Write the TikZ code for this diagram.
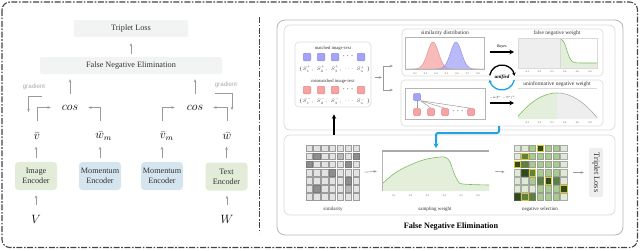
\RequirePackage{fix-cm}
\documentclass[tikz,border=0pt]{standalone}
\usepackage{fontspec}
\setmainfont{Liberation Serif}
\newfontfamily\arialf{Liberation Sans}
\usetikzlibrary{arrows.meta,calc}
\newcommand{\fsz}[1]{\fontsize{#1}{#1}\selectfont}
\newcommand{\fszl}[2]{\fontsize{#1}{#2}\selectfont}
\definecolor{txt}{HTML}{333333}
\definecolor{boxg}{HTML}{F2F3F3}
\definecolor{encg}{HTML}{E2ECD8}
\definecolor{encb}{HTML}{D4E5EF}
\definecolor{arrg}{HTML}{9A9A9A}
\definecolor{gradc}{HTML}{AAAAAA}
\definecolor{framec}{HTML}{444444}
\definecolor{panel}{HTML}{B5B5B5}
\definecolor{panel2}{HTML}{D9D9D9}
\definecolor{sqb}{HTML}{A3A3F7}
\definecolor{sqbd}{HTML}{8C8CE6}
\definecolor{sqr}{HTML}{F7A3A3}
\definecolor{sqrd}{HTML}{E38C8C}
\definecolor{cyanc}{HTML}{1FA2E6}
\definecolor{gln}{HTML}{7DBB62}
\definecolor{gfl}{HTML}{E3EFDA}
\definecolor{grf}{HTML}{EEEEEE}
\definecolor{simc0}{HTML}{E3E3E3}
\definecolor{simd0}{HTML}{9C9C9C}
\definecolor{simc1}{HTML}{8E8E8E}
\definecolor{simd1}{HTML}{7A7A7A}
\definecolor{simc2}{HTML}{B9B9B9}
\definecolor{simd2}{HTML}{8E8E8E}
\definecolor{negc0}{HTML}{DFEAD5}
\definecolor{negd0}{HTML}{ABABAB}
\definecolor{negc1}{HTML}{A9CB8F}
\definecolor{negd1}{HTML}{9AA092}
\definecolor{negc2}{HTML}{5E8040}
\definecolor{negd2}{HTML}{6E7E60}
\definecolor{negc3}{HTML}{2F4A1C}
\definecolor{negd3}{HTML}{4A5A40}
\definecolor{negc4}{HTML}{2F4A1C}
\definecolor{negd4}{HTML}{D8C530}
\definecolor{negc5}{HTML}{5E8040}
\definecolor{negd5}{HTML}{D8C530}
\begin{document}
\begin{tikzpicture}[x=1pt,y=-1pt,
  lbl/.style={font=\fszl{8.2}{10}, text=txt},
  lbox/.style={lbl, fill=boxg, rounded corners=2pt, inner sep=0},
  enc/.style={lbl, rounded corners=3.5pt, minimum width=42, minimum height=28, align=center, inner sep=0},
  mth/.style={inner sep=0, text=black, font=\fsz{12}},
  garrow/.style={draw=arrg, line width=0.6pt, -{Stealth[length=3.2pt,width=2.6pt]}},
  gline/.style={draw=arrg, line width=0.6pt},
  dashdot/.style={draw=framec, line width=1.1pt, dash pattern=on 6pt off 1.6pt on 1.6pt off 1.6pt},
  gradlbl/.style={font=\arialf\fsz{6.2}, text=gradc, inner sep=0},
  tinyl/.style={font=\fsz{4.6}, text=txt, inner sep=0},
  setl/.style={font=\fsz{4.8}, text=txt, inner sep=0},
  ttl/.style={font=\fsz{5.5}, text=txt, inner sep=0},
  ticklbl/.style={font=\fsz{2.6}, text=txt!80, inner sep=0},
  cell/.style={minimum width=6.3, minimum height=6.6, inner sep=0, line width=0.5pt},
  sq/.style={minimum size=7.5, inner sep=0, rounded corners=1pt, line width=0.5pt},
  rowbox/.style={draw=panel2, rounded corners=4pt, line width=0.6pt, inner sep=0},
  chframe/.style={draw=panel, line width=0.4pt},
  bigarrow/.style={draw=black, line width=1.6pt, -{Stealth[length=4.5pt,width=4.5pt]}}
]
\useasboundingbox (0,0) rectangle (640,250);
% outer frame and divider
\draw[dashdot, rounded corners=8pt] (2,2) rectangle (637.5,247.5);
\draw[dashdot, line width=0.8pt] (259,17) -- (259,233);

% ================= LEFT PANEL =================
\node[lbox, minimum width=114, minimum height=17] (tl) at (131,28.5) {Triplet Loss};
\node[lbox, minimum width=182, minimum height=17] (fne) at (131,65.5) {False Negative Elimination};
\node[mth] (cosL) at (70,107.5) {$cos$};
\node[mth] (cosR) at (195,107.5) {$cos$};
\node[mth] (vb) at (37,136) {$\bar{v}$};
\node[mth] (wm) at (103.7,136) {$\bar{w}_m$};
\node[mth] (vm) at (166.7,136) {$\bar{v}_m$};
\node[mth] (wb) at (227,136) {$\bar{w}$};
\node[enc, fill=encg] (enc1) at (36,176) {Image\\Encoder};
\node[enc, fill=encb] (enc2) at (100,176) {Momentum\\Encoder};
\node[enc, fill=encb] (enc3) at (162,176) {Momentum\\Encoder};
\node[enc, fill=encg] (enc4) at (226.5,176.5) {Text\\Encoder};
\node[mth] (V) at (36,219) {$V$};
\node[mth] (W) at (227,219) {$W$};
\node[gradlbl] (gradL) at (34,87) {gradient};
\node[gradlbl] (gradR) at (226,85) {gradient};
\coordinate (gl1) at (42,96.5);
\coordinate (gl2) at (28.5,112);
\coordinate (gr1) at (215,93);
\coordinate (gr2) at (232,110);

\draw[garrow, shorten <=3, shorten >=6] (fne.north) -- (tl.south);
\draw[garrow, shorten <=11, shorten >=5] (cosL.north) -- (cosL.north |- fne.south);
\draw[garrow, shorten <=11, shorten >=5] (cosR.north) -- (cosR.north |- fne.south);
\draw[garrow, shorten <=11, shorten >=11] (vb.north) |- (cosL.west);
\draw[garrow, shorten <=11, shorten >=10] (wm.north -| enc2.north) |- (cosL.east);
\draw[garrow, shorten <=11, shorten >=12] (vm.north -| enc3.north) |- (cosR.west);
\draw[garrow, shorten <=11, shorten >=10] (wb.north) |- (cosR.east);
\draw[garrow] (gl1) -| (gl2);
\draw[garrow] (gr1) -| (gr2);
\foreach \e/\v in {enc1/vb,enc2/wm,enc3/vm,enc4/wb}{
  \draw[garrow, shorten <=4, shorten >=7] (\e.north) -- (\e.north |- vb.south);
}
\draw[garrow, shorten <=10, shorten >=5] (V.north) -- (enc1.south);
\draw[garrow, shorten <=10, shorten >=5] (W.north) -- (W.north |- enc4.south);

% ================= RIGHT PANEL =================
\draw[draw=panel, line width=0.8pt, rounded corners=8pt] (277,20) rectangle (623,235);
\draw[draw=panel2, line width=0.7pt, rounded corners=6pt] (284,25) rectangle (615,130);
\draw[draw=panel2, line width=0.7pt, rounded corners=6pt] (284,135) rectangle (615,215);
\node[font=\bfseries\fsz{8.2}, inner sep=0] (fnet) at (451,227) {False Negative Elimination};

% module box
\node[rowbox, minimum width=76, minimum height=65] (mod) at (333,74.5) {};
\node[tinyl] (mt) at (333,48) {matched image-text};
\node[tinyl] (mmt) at (333,81) {mismatched image-text};
\foreach \xx [count=\i] in {307,321,335,361}{
  \node[sq, fill=sqb, draw=sqbd] (pb\i) at (\xx,57) {};
  \node[sq, fill=sqr, draw=sqrd] (pr\i) at (\xx,90) {};
}
\node[inner sep=0, font=\bfseries\fsz{9}] (pbd) at (348,56.5) {$\cdots$};
\node[inner sep=0, font=\bfseries\fsz{9}] (prd) at (348,89.5) {$\cdots$};
\node[setl] (lbo) at (301,69) {$\{$};
\node[setl] (lbc) at (368.5,69) {$\}$};
\node[setl] (lb1) at (308,69) {$S_1^+,$};
\node[setl] (lb2) at (322,69) {$S_2^+,$};
\node[setl] (lb3) at (336,69) {$S_3^+,$};
\node[setl] (lbd) at (349,69) {$\cdots$};
\node[setl] (lbn) at (360.5,69) {$S_n^+$};
\node[setl] (mbo) at (301,101) {$\{$};
\node[setl] (mbc) at (368.5,101) {$\}$};
\node[setl] (mb1) at (308,101) {$S_1^-,$};
\node[setl] (mb2) at (322,101) {$S_2^-,$};
\node[setl] (mb3) at (336,101) {$S_3^-,$};
\node[setl] (mbd) at (349,101) {$\cdots$};
\node[setl] (mbn) at (360.5,101) {$S_n^-$};

% split arrows
\coordinate (sp) at (383,77.5);
\coordinate (sa) at (383,66);
\coordinate (sb) at (383,90);
\coordinate (ta) at (393,66);
\coordinate (tb) at (393,90);
\draw[garrow, shorten <=4, shorten >=1] (mod.east |- sp) -- (sp);
\draw[gline] (sa) -- (sb);
\draw[garrow] (sa) -- (ta);
\draw[garrow] (sb) -- (tb);

% row boxes
\node[rowbox, minimum width=201, minimum height=47] (r1) at (502.5,52.5) {};
\node[rowbox, minimum width=202, minimum height=46] (r2) at (502,103) {};

% similarity distribution chart
\node[ttl] (sdt) at (445,33) {similarity distribution};
\fill[sqr, opacity=0.75] (405,69) -- plot[domain=405:484,samples=90] (\x,{69-27*exp(-min(((\x-433)^2)/60.5,12))}) -- (484,69) -- cycle;
\fill[sqb, opacity=0.75] (405,69) -- plot[domain=405:484,samples=90] (\x,{69-27*exp(-min(((\x-456)^2)/60.5,12))}) -- (484,69) -- cycle;
\draw[sqrd, line width=0.4pt] plot[domain=405:484,samples=90] (\x,{69-27*exp(-min(((\x-433)^2)/60.5,12))});
\draw[sqbd, line width=0.4pt] plot[domain=405:484,samples=90] (\x,{69-27*exp(-min(((\x-456)^2)/60.5,12))});
\draw[chframe] (405,37) rectangle (484,69);
\foreach \tk [count=\i from 0] in {0.2,0.3,0.4,0.5,0.6,0.7,0.8}
  \node[ticklbl] (sdk\i) at ({415+10.5*\i},73.5) {\tk};

% Bayes arrow
\coordinate (ba1) at (490,52);
\coordinate (ba2) at (514,52);
\draw[bigarrow] (ba1) -- (ba2);
\node[font=\itshape\fsz{4}, inner sep=0] (bayes) at (502,46.5) {Bayes};

% false negative weight
\node[ttl] (fnwt) at (557,33) {false negative weight};
\fill[grf] (518,38) rectangle (560,68);
\fill[gfl] (560,68) -- plot[domain=560:597,samples=50] (\x,{63-25/(1+exp(min((\x-567)/2,8)))}) -- (597,68) -- cycle;
\draw[gln, line width=0.6pt] plot[domain=560:597,samples=50] (\x,{63-25/(1+exp(min((\x-567)/2,8)))});
\draw[draw=panel2, line width=0.3pt] (560,38) -- (560,68);
\draw[chframe, draw=panel2] (518,38) rectangle (597,68);
\foreach \tk [count=\i from 0] in {-0.2,0.0,0.2,0.4,0.6,0.8}
  \node[ticklbl] (fnk\i) at ({527+12.6*\i},71.5) {\tk};

% unified circle
\node[circle, fill=white, minimum size=25, inner sep=0, font=\bfseries\itshape\fsz{5}] (uc) at (502,77.5) {unified};
\draw[line width=1.3pt, -{Stealth[length=3.2pt,width=3.5pt]}] ([shift={(190:12.5)}]uc.center) arc[start angle=190, end angle=352, radius=12.5];
\draw[cyanc, line width=1.3pt, -{Stealth[length=3.2pt,width=3.5pt]}] ([shift={(12:12.5)}]uc.center) arc[start angle=12, end angle=170, radius=12.5];

% tree graph
\draw[draw=panel, line width=0.6pt] (405,88) rectangle (485,119);
\node[sq, minimum size=7, fill=sqb, draw=sqbd] (tb0) at (417,97) {};
\foreach \xx [count=\i] in {417,431,445,471}
  \node[sq, minimum size=7, fill=sqr, draw=sqrd] (tr\i) at (\xx,112) {};
\node[inner sep=0, font=\bfseries\fsz{9}] (trd) at (458,111.5) {$\cdots$};
\draw[gline, line width=0.5pt] (tb0.south) -- (tr1.north);
\foreach \i in {2,3,4}
  \draw[gline, line width=0.5pt] (tb0.south east) -- (tr\i.north);

% alpha arrow
\coordinate (aa1) at (490,103);
\coordinate (aa2) at (514,103);
\draw[bigarrow] (aa1) -- (aa2);
\node[font=\fsz{3}, inner sep=0] (alab) at (502,97.5) {$-\alpha(\Gamma^{i}-\Gamma^{*})^{2}$};

% uninformative negative weight
\node[ttl] (unt) at (557,84) {uninformative negative weight};
\fill[gfl] (518,119) -- plot[domain=518:557,samples=40] (\x,{93+24*((\x-557)/39.5)^2}) -- (557,119) -- cycle;
\fill[grf] (557,119) -- plot[domain=557:597,samples=40] (\x,{93+24*((\x-557)/39.5)^2}) -- (597,119) -- cycle;
\draw[gln, line width=0.6pt] plot[domain=518:557,samples=40] (\x,{93+24*((\x-557)/39.5)^2});
\draw[draw=gradc, line width=0.6pt] plot[domain=557:597,samples=40] (\x,{93+24*((\x-557)/39.5)^2});
\draw[draw=panel2, line width=0.4pt] (518,88) -- (597,88);
\foreach \tk [count=\i from 0] in {-0.2,0.0,0.2,0.4,0.6,0.8}
  \node[ticklbl] (unk\i) at ({527+12.6*\i},122.5) {\tk};

% cyan elbow arrow
\coordinate (cy1) at (499,126);
\coordinate (cy2) at (436,148);
\draw[cyanc, line width=2pt, rounded corners=2pt, -{Stealth[length=4.5pt,width=5pt]}] (cy1) -- (499,133) -| (cy2);

% black up arrow
\coordinate (bu) at (334,135);
\draw[bigarrow, shorten >=7] (bu) -- (bu |- mod.south);

% similarity grid
\foreach \row [count=\r from 0] in {{0,0,0,0,0,0,0},{0,1,0,0,2,0,1},{1,0,0,0,0,1,0},{0,0,0,1,0,0,0},{0,0,0,0,0,1,0},{0,1,0,0,0,2,0},{0,0,0,0,0,0,0}}{
  \foreach \v [count=\c from 0] in \row {
    \node[cell, fill=simc\v, draw=simd\v] (s\r\c) at ({305+7.86*(\c+0.5)},{144+8.15*(\r+0.5)}) {};
  }
}
\node[tinyl, font=\fsz{5}] (siml) at (333,209) {similarity};

% sampling weight chart
\node[inner sep=0, minimum width=107, minimum height=40] (sw) at (435.5,171) {};
\fill[gfl] (382,191) -- plot[smooth, tension=0.6] coordinates {(382,184) (395,173) (410,165) (425,159.5) (440,157) (446,157.5) (450,162) (454,173) (458,181) (463,184) (489,185)} -- (489,191) -- cycle;
\draw[gln, line width=0.6pt] plot[smooth, tension=0.6] coordinates {(382,184) (395,173) (410,165) (425,159.5) (440,157) (446,157.5) (450,162) (454,173) (458,181) (463,184) (489,185)};
\draw[draw=panel, line width=0.5pt] (382,191) -- (382,151) -- (489,151);
\draw[draw=gradc, line width=1.4pt] (382,151) -- (489,151);
\foreach \tk [count=\i from 0] in {0.1,0.2,0.3,0.4,0.5,0.6}
  \node[ticklbl] (swk\i) at ({394+16.8*\i},195.5) {\tk};
\node[tinyl, font=\fsz{5}] (swl) at (435,209) {sampling weight};

% negative selection grid
\foreach \row [count=\r from 0] in {{0,0,1,4,1,1,0},{0,5,1,1,1,1,0},{4,2,1,1,1,1,0},{0,3,5,1,1,1,0},{0,0,1,2,4,2,0},{0,0,0,1,1,1,4},{3,5,2,1,1,1,0}}{
  \foreach \v [count=\c from 0] in \row {
    \node[cell, fill=negc\v, draw=negd\v] (n\r\c) at ({513+7.8*(\c+0.5)},{144+8.15*(\r+0.5)}) {};
  }
}
\node[tinyl, font=\fsz{5}] (negl) at (540,209) {negative selection};

% Triplet loss vertical
\node[fill=grf, rounded corners=2pt, minimum width=49, minimum height=14, inner sep=0, rotate=-90, font=\fsz{8.2}, text=txt] (tlv) at (596,172.5) {Triplet Loss};

% lower arrows
\draw[garrow, shorten <=5, shorten >=5] (s36.east) -- (sw.west);
\draw[garrow, shorten <=6, shorten >=9] (sw.east) -- (n30.west);
\draw[garrow, shorten <=6, shorten >=5] (n36.east) -- (tlv.south);
\end{tikzpicture}
\end{document}
